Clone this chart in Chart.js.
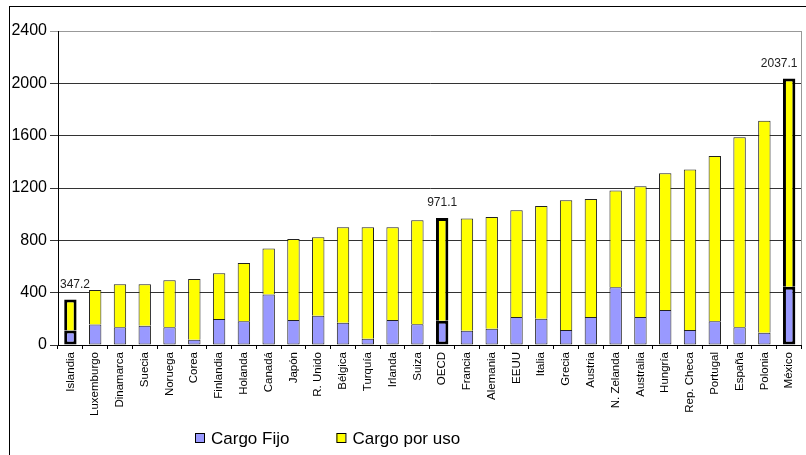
<!DOCTYPE html>
<html>
<head>
<meta charset="utf-8">
<script src="https://cdn.jsdelivr.net/npm/chart.js@4/dist/chart.umd.min.js"></script>
<style>
  html, body { margin: 0; padding: 0; background: #fff; }
  #marco { position: relative; width: 806px; height: 455px; overflow: hidden; }
  #borde { position: absolute; left: 9px; top: 6px; width: 900px; height: 600px;
           border-left: 1px solid #000; border-top: 1px solid #000; box-sizing: border-box; }
  canvas { position: absolute; left: 0; top: 0; }
</style>
</head>
<body>
<div id="marco">
  <div id="borde"></div>
  <canvas id="grafico" width="806" height="455"></canvas>
</div>
<script>
// Países ordenados por coste total
const paises = ['Islandia', 'Luxemburgo', 'Dinamarca', 'Suecia', 'Noruega', 'Corea', 'Finlandia',
  'Holanda', 'Canadá', 'Japón', 'R. Unido', 'Bélgica', 'Turquía', 'Irlanda', 'Suiza', 'OECD',
  'Francia', 'Alemania', 'EEUU', 'Italia', 'Grecia', 'Austria', 'N. Zelanda', 'Australia',
  'Hungría', 'Rep. Checa', 'Portugal', 'España', 'Polonia', 'México'];

// Cargo fijo
const cargoFijo = [110, 157, 135, 148, 135, 40, 199, 181, 386, 191, 224, 171, 47, 191, 158, 185,
  108, 125, 214, 201, 115, 214, 442, 214, 267, 115, 181, 135, 93, 445];

// Cargo por uso
const cargoPorUso = [237.2, 263, 330, 317, 360, 465, 349, 445, 352, 620, 600, 729, 853, 709, 795, 786.1,
  858, 854, 815, 861, 992, 901, 739, 1000, 1045, 1227, 1263, 1453, 1621, 1592.1];

// Barras resaltadas con su total rotulado
const destacados = ['Islandia', 'OECD', 'México'];

// Marcas del eje vertical
const marcasY = [0, 400, 800, 1200, 1600, 2000, 2400];

const FUENTE = "'Liberation Sans', Arial, sans-serif";
const esDestacado = (i) => destacados.includes(paises[i]);

// Total sobre las barras resaltadas
const rotulosTotales = {
  id: 'rotulosTotales',
  afterDatasetsDraw(chart) {
    const ctx = chart.ctx;
    const arriba = chart.getDatasetMeta(1).data;
    const area = chart.chartArea;
    ctx.save();
    ctx.font = '12px ' + FUENTE;
    ctx.fillStyle = '#222';
    ctx.textBaseline = 'middle';
    ctx.textAlign = 'left';
    paises.forEach((p, i) => {
      if (!esDestacado(i)) return;
      const total = cargoFijo[i] + cargoPorUso[i];
      const texto = total.toFixed(1);
      const w = ctx.measureText(texto).width;
      const el = arriba[i];
      let x = el.x - w / 2;
      x = Math.max(area.left + 2, Math.min(x, area.right - 4 - w));
      ctx.fillText(texto, x, el.y - 15);
    });
    ctx.restore();
  }
};

// Borde derecho del área de trazado
const bordeArea = {
  id: 'bordeArea',
  beforeDatasetsDraw(chart) {
    const { ctx, chartArea: a } = chart;
    ctx.save();
    ctx.strokeStyle = '#999';
    ctx.lineWidth = 1;
    ctx.beginPath();
    ctx.moveTo(Math.round(a.right) - 0.5, a.top);
    ctx.lineTo(Math.round(a.right) - 0.5, a.bottom);
    ctx.stroke();
    ctx.restore();
  }
};

// Leyenda inferior
const leyenda = {
  id: 'leyenda',
  afterDraw(chart) {
    const ctx = chart.ctx;
    ctx.save();
    ctx.font = '17px ' + FUENTE;
    ctx.textBaseline = 'middle';
    ctx.textAlign = 'left';
    let x = 195;
    const y = 439;
    chart.data.datasets.forEach((ds) => {
      ctx.fillStyle = ds.backgroundColor;
      ctx.fillRect(x, y - 6, 9, 9);
      ctx.strokeStyle = '#000';
      ctx.lineWidth = 1;
      ctx.strokeRect(x + 0.5, y - 5.5, 9, 9);
      ctx.fillStyle = '#000';
      const tx = x + 16;
      ctx.fillText(ds.label, tx, y);
      x = tx + ctx.measureText(ds.label).width + 47;
    });
    ctx.restore();
  }
};

new Chart(document.getElementById('grafico'), {
  type: 'bar',
  data: {
    labels: paises,
    datasets: [
      {
        label: 'Cargo Fijo',
        data: cargoFijo,
        backgroundColor: '#9999FF',
        borderColor: (c) => esDestacado(c.dataIndex) ? '#000' : '#222',
        borderWidth: (c) => esDestacado(c.dataIndex) ? 3 : 1,
        borderSkipped: false
      },
      {
        label: 'Cargo por uso',
        data: cargoPorUso,
        backgroundColor: '#FFFF00',
        borderColor: (c) => esDestacado(c.dataIndex) ? '#000' : '#222',
        borderWidth: (c) => esDestacado(c.dataIndex) ? 3 : 1,
        borderSkipped: 'start'
      }
    ]
  },
  options: {
    responsive: false,
    animation: false,
    devicePixelRatio: 1,
    layout: { padding: { left: 10, right: 3, top: 31, bottom: 40 } },
    datasets: { bar: { categoryPercentage: 1, barPercentage: 0.5 } },
    plugins: {
      legend: { display: false },
      tooltip: { enabled: false }
    },
    scales: {
      x: {
        stacked: true,
        afterFit: (s) => { s.height = 70; },
        grid: { offset: true, drawOnChartArea: false, tickLength: 4, color: '#000' },
        border: { color: '#000', width: 1 },
        ticks: {
          autoSkip: false,
          minRotation: 90,
          maxRotation: 90,
          padding: 3,
          color: '#000',
          font: { family: FUENTE, size: 11.5 }
        }
      },
      y: {
        stacked: true,
        min: marcasY[0],
        max: marcasY[marcasY.length - 1],
        afterFit: (s) => { s.width = 48; },
        afterBuildTicks: (s) => { s.ticks = marcasY.map((v) => ({ value: v })); },
        grid: {
          color: (c) => c.tick && c.tick.value === marcasY[marcasY.length - 1] ? '#999' : '#333',
          tickLength: 8,
          lineWidth: 1
        },
        border: { color: '#000', width: 1 },
        ticks: {
          padding: 3,
          color: '#000',
          font: { family: FUENTE, size: 16 },
          callback: (v) => String(v)
        }
      }
    }
  },
  plugins: [bordeArea, rotulosTotales, leyenda]
});
</script>
</body>
</html>
